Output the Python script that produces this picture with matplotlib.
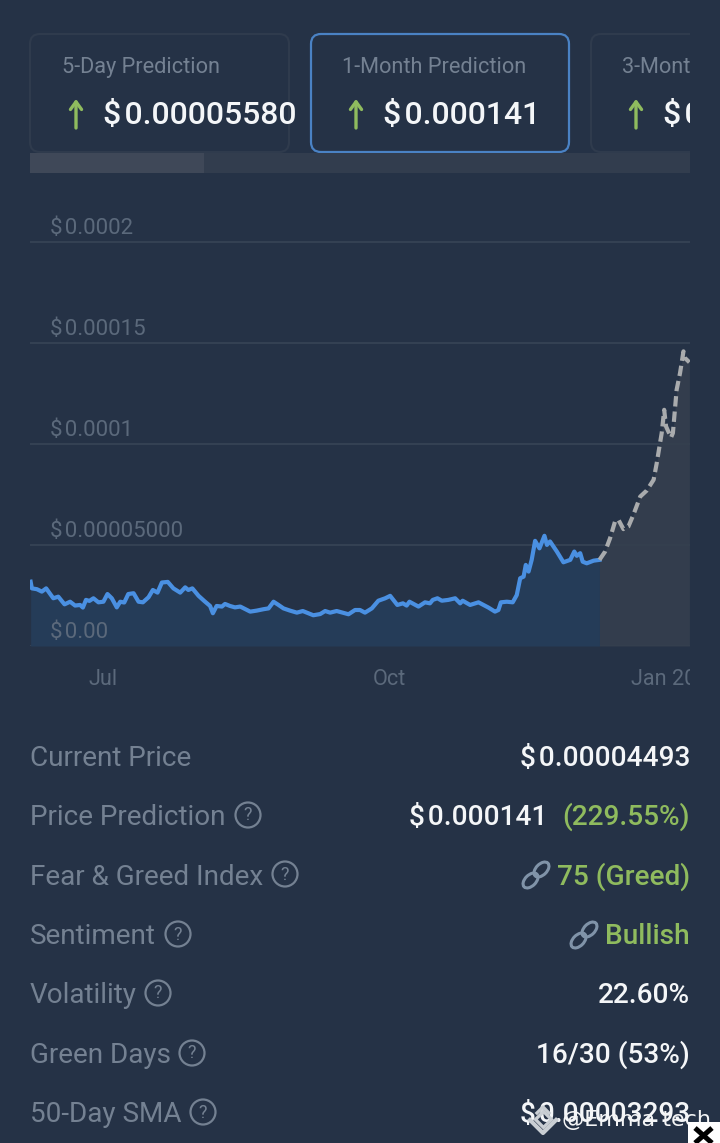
import matplotlib
matplotlib.use('Agg')
import matplotlib.pyplot as plt
from matplotlib.patches import Circle, Ellipse, FancyBboxPatch, Rectangle

plt.rcParams['font.family'] = ['Roboto', 'DejaVu Sans']

# Days since Jul 1, price in units of 1e-5
hist_days = [-23.3, -22.9, -21.3, -19.7, -18.3, -17.0, -16.0, -14.4, -12.4, -10.6,
             -9.0, -7.4, -6.5, -5.5, -4.4, -3.1, -1.5, 0.1, 1.4, 2.8,
             4.4, 5.5, 6.8, 8.1, 9.8, 11.4, 12.8, 14.6, 16.0, 17.5,
             18.9, 20.8, 22.6, 24.8, 26.4, 27.4, 28.7, 30.7, 32.5, 34.4,
             35.3, 36.5, 38.2, 39.2, 40.8, 42.4, 44.1, 47.3, 49.4, 51.6,
             53.2, 54.8, 56.4, 58.0, 60.1, 62.3, 64.2, 67.6, 69.8, 71.4,
             73.0, 75.1, 78.9, 81.0, 82.6, 84.2, 86.4, 88.5, 90.7, 92.3,
             94.6, 96.4, 97.6, 98.5, 101.4, 103.5, 105.1, 106.0, 107.5, 108.9,
             111.0, 113.2, 114.8, 115.6, 118.0, 120.7, 123.9, 126.0, 127.1, 127.9,
             129.8, 131.7, 133.0, 134.1, 135.2, 135.9, 136.8, 137.8, 138.9, 140.3,
             141.9, 142.7, 143.7, 145.9, 148.0, 150.2, 151.5, 152.3, 153.4, 154.2,
             155.5, 157.7, 159.6]
hist_price = [3.18, 2.85, 2.81, 2.69, 2.85, 2.57, 2.36, 2.44, 2.06, 2.19,
              2.00, 2.03, 1.90, 2.28, 2.23, 2.36, 2.16, 2.19, 2.57, 2.36,
              1.91, 2.19, 2.15, 2.57, 2.61, 2.19, 2.16, 2.41, 2.77, 2.64,
              3.14, 3.17, 2.85, 2.64, 2.90, 2.77, 2.85, 2.48, 2.23, 1.98,
              1.62, 1.98, 1.95, 2.08, 1.98, 1.91, 1.95, 1.70, 1.75, 1.82,
              1.86, 2.19, 2.03, 1.86, 1.75, 1.65, 1.73, 1.52, 1.58, 1.73,
              1.65, 1.73, 1.57, 1.78, 1.78, 1.65, 1.86, 2.24, 2.36, 2.48,
              2.03, 2.11, 2.00, 2.19, 1.95, 2.16, 2.11, 2.28, 2.36, 2.24,
              2.28, 2.36, 2.11, 2.24, 2.03, 2.16, 1.90, 1.70, 1.78, 2.16,
              2.19, 2.16, 2.52, 3.35, 3.43, 4.01, 3.68, 4.26, 5.20, 4.83,
              5.45, 5.00, 5.17, 4.67, 4.14, 4.26, 4.67, 4.46, 4.59, 4.17,
              4.09, 4.22, 4.26]
pred_days = [159.6, 161.4, 163.0, 164.6, 165.7, 167.3, 168.9, 170.5, 172.7, 174.8,
             177.0, 178.0, 179.6, 180.4, 181.0, 182.6, 183.2, 184.4, 185.5, 186.6,
             187.1, 188.5]
pred_price = [4.26, 4.67, 5.33, 6.16, 6.24, 5.78, 5.91, 6.49, 7.39, 7.69,
              8.22, 9.04, 10.53, 11.68, 10.86, 10.31, 10.53, 12.67, 13.50, 14.57,
              14.24, 14.03]

y_ticks = [0, 5, 10, 15, 20]
y_labels = ['$\u200a0.00', '$\u200a0.00005000', '$\u200a0.0001', '$\u200a0.00015', '$\u200a0.0002']
x_ticks = [0, 92, 184]
x_labels = ['Jul', 'Oct', 'Jan 2025']

stat_names = ['Current Price', 'Price Prediction', 'Fear & Greed Index', 'Sentiment',
              'Volatility', 'Green Days', '50-Day SMA']
stat_values = ['$\u200a0.00004493', '(229.55%)', '75 (Greed)', 'Bullish',
               '22.60%', '16/30 (53%)', '$\u200a0.00003293']
stat_green = [False, True, True, True, False, False, False]

BG = '#253246'
MUTED = '#748192'
TICK = '#5b697b'
GREEN = '#8fbb5e'
WHITE = '#f4f6f8'
W, H = 720, 1143

fig = plt.figure(figsize=(W / 100, H / 100), dpi=100, facecolor=BG)

#----------------------------------------
# The chart
ax = fig.add_axes([30 / W, 1 - 646 / H, 660 / W, 456 / H])
ax.set_facecolor('none')
ax.set_xlim(-23.5, 188.7)
ax.set_ylim(0, 22.55)
for spine in ax.spines.values():
  spine.set_visible(False)
ax.set_yticks(y_ticks)
ax.set_yticklabels([])
ax.tick_params(axis='y', length=0)
ax.grid(axis='y', color='#344153', lw=1.5)
ax.set_axisbelow(True)
ax.set_xticks(x_ticks)
ax.set_xticklabels(x_labels, fontsize=15.6, color=TICK)
ax.tick_params(axis='x', length=0, pad=16.5)
ax.fill_between(hist_days, hist_price, color='#253c58', lw=0)
ax.fill_between(pred_days, pred_price, color='#353f4e', alpha=0.9, lw=0)
ax.plot(hist_days, hist_price, color='#4a90e2', lw=3, solid_joinstyle='round')
ax.plot(pred_days, pred_price, color='#a9abad', lw=3, dashes=(2.5, 1.2))
for tick, label in zip(y_ticks, y_labels):
  ax.annotate(label, (0, tick), xycoords=('axes fraction', 'data'),
              xytext=(14.5, 2.2), textcoords='offset points', fontsize=16,
              color=TICK, va='bottom', ha='left', parse_math=False)

#----------------------------------------
# The page around it, in pixel coordinates
ui = fig.add_axes([0, 0, 1, 1])
ui.set_xlim(0, W)
ui.set_ylim(H, 0)
ui.axis('off')
ui.patch.set_alpha(0)


def card(x, width, edge, lw):
  ui.add_patch(FancyBboxPatch((x + 10, 44), width - 20, 98,
                              boxstyle='round,pad=10,rounding_size=10',
                              fc='none', ec=edge, lw=lw))


def arrow(x):
  ui.annotate('', (x, 99), (x, 128),
              arrowprops=dict(arrowstyle='->,head_length=0.55,head_width=0.4',
                              color=GREEN, lw=2.4, shrinkA=0, shrinkB=0))


def help_icon(x, y):
  ui.add_patch(Circle((x, y), 12.5, fc='none', ec=MUTED, lw=1.6))
  ui.text(x, y + 0.5, '?', color=MUTED, fontsize=13, ha='center', va='center')


def link_icon(x, y):
  ui.add_patch(Ellipse((x - 5.5, y + 5.5), 18, 11, angle=-45, fc='none', ec='#8093a8', lw=2.2))
  ui.add_patch(Ellipse((x + 5.5, y - 5.5), 18, 11, angle=-45, fc='none', ec='#8093a8', lw=2.2))


card(30, 259, '#2f3b4d', 1.5)
card(311, 258, '#4a82c4', 1.6)
card(591, 258, '#2f3b4d', 1.5)
for x, name in zip([62.5, 342.5, 622.5], ['5-Day Prediction', '1-Month Prediction', '3-Month Prediction']):
  ui.text(x, 73, name, color=MUTED, fontsize=15.7, va='baseline')
for x, value in zip([103, 383, 663], ['$\u200a0.00005580', '$\u200a0.000141', '$\u200a0.0001']):
  arrow(x - 27)
  ui.text(x, 124, value, color=WHITE, fontsize=23, fontweight='medium', va='baseline', parse_math=False)

ui.add_patch(Rectangle((30, 153), 660, 20, fc='#323d4e', lw=0))
ui.add_patch(Rectangle((30, 153), 174, 20, fc='#3f4858', lw=0))
# anything running past the right edge of the scroller is cut off
ui.add_patch(Rectangle((690, 0), 30, 700, fc=BG, lw=0, zorder=5))

row_y = [766, 825, 885, 944, 1003, 1063, 1122]
for y, name, value, green in zip(row_y, stat_names, stat_values, stat_green):
  ui.text(30, y, name, color=MUTED, fontsize=20.1, va='baseline')
  ui.text(690, y, value, color=GREEN if green else WHITE, fontsize=20.2,
          fontweight='medium', ha='right', va='baseline', parse_math=False)
ui.text(547, 825, '$\u200a0.000141', color=WHITE, fontsize=20.2, fontweight='medium',
        ha='right', va='baseline', parse_math=False)

for x, y in [(248, 815), (285, 874), (178, 934), (158, 993), (192, 1053), (203, 1112)]:
  help_icon(x, y)
link_icon(536, 875)
link_icon(584, 935)

#----------------------------------------
# Watermark and close button
ui.plot([530, 543, 556], [1120, 1133, 1120], color='#c9ced3', lw=3, zorder=6)
ui.plot([543], [1119], marker='D', ms=8, mfc='none', mec='#c9ced3', mew=2.4, zorder=6)
ui.plot([537, 543, 549], [1113, 1107, 1113], color='#c9ced3', lw=2.4, zorder=6)
ui.text(562, 1120, '@Emma tech', color='#f4f5f6', fontsize=16, family='DejaVu Sans',
        va='center', zorder=6)
ui.add_patch(Rectangle((688, 1122), 32, 21, fc='white', lw=0, zorder=7))
ui.plot([695, 712], [1128, 1143], color='black', lw=3.6, zorder=8, solid_capstyle='butt')
ui.plot([712, 695], [1128, 1143], color='black', lw=3.6, zorder=8, solid_capstyle='butt')
ui.set_xlim(0, W)
ui.set_ylim(H, 0)

fig.savefig('out.png', dpi=100, facecolor=BG)
